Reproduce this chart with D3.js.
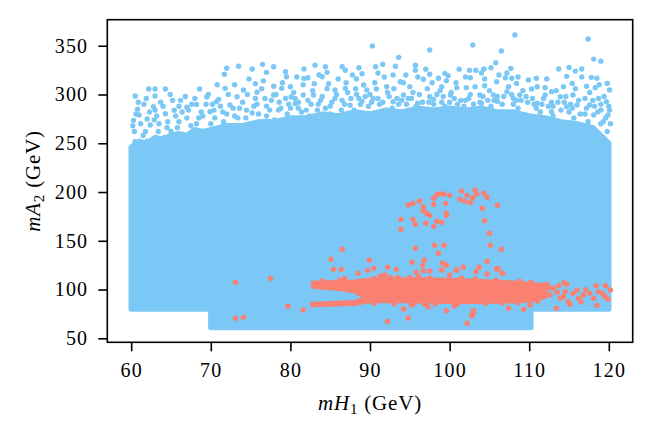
<!DOCTYPE html>
<html>
<head>
<meta charset="utf-8">
<script src="https://cdn.jsdelivr.net/npm/d3@7"></script>
<style>
  body { margin: 0; background: #fff; }
  svg text { font-family: "Liberation Serif", "DejaVu Serif", serif; }
</style>
</head>
<body>
<div id="chart"></div>
<script>
// x ticks / y ticks
var xTicks = [60, 70, 80, 90, 100, 110, 120];
var yTicks = [50, 100, 150, 200, 250, 300, 350];

// dense blue region: floor steps and upper envelope (point centres)
var blueFloor = [[60, 80], [70, 80], [70, 61], [110.2, 61], [110.2, 80], [120, 80]];
var blueEdgeX = [60, 61, 62, 63, 64, 65, 66, 67, 68, 69, 70, 72, 74, 76, 78, 80, 82, 84, 86, 88,
                 90, 92, 94, 96, 98, 100, 102, 104, 106, 108, 110, 112, 114, 116, 118, 119, 120];
var blueEdgeTop = [246, 252, 250, 256, 254, 258, 260, 258, 264, 262, 264, 268, 268, 272, 272, 276, 276, 280, 278, 282,
                   280, 284, 282, 286, 284, 286, 284, 286, 282, 282, 278, 276, 272, 270, 266, 258, 250];

// loose blue points above the dense region
var bluePoints = [
  [60.5,298.4],[62.2,305.6],[63.0,305.6],[63.0,298.4],[64.3,305.6],[62.8,287.5],[60.3,273.5],[61.0,279],
  [66.2,294],[65.4,283.8],[64.3,280.3],[68.6,305.6],[69.5,297.4],[72.0,326.9],[71.7,320.7],[73.5,328.9],
  [75.2,326.1],[76.5,330.9],[77.9,328.5],[77.0,322.7],[79.4,323.4],[79.5,318.2],[71.8,306.3],[75.6,311.1],
  [74.1,304.6],[77.9,308.4],[68.2,289.8],[70.7,292.6],[72.4,289.2],[73.3,297.7],[75.6,296],[78.9,306.3],
  [80.1,297.4],[81.7,326.1],[83.1,330],[84.4,328.5],[84.6,322.7],[84.0,318.2],[81.7,316.5],[82.2,317.2],
  [83.0,311.1],[84.8,311.1],[86.5,328.5],[86.9,324.8],[88.6,327.5],[89.0,321.3],[89.2,309.7],[88.3,315.9],
  [90.3,349.7],[90.7,328.5],[85.6,304.6],[86.9,306.3],[81.6,299.5],[82.9,299.5],[80.6,290.6],[88.3,300.2],
  [89.6,304.6],[60.5,251.6],[62.4,268.7],[67.0,286.9],[69.9,282.4],[77.9,299.5],[75.8,302.3],
  [97.5,345.6],[102.9,350.7],[108.2,361],[117.4,356.9],[106.5,344.6],[93.6,338.1],[91.6,331],[93.2,328.9],
  [95.7,330],[95.7,324.8],[92.9,320],[97.5,320.7],[98.6,316.6],[96.7,315.6],[99.4,321.7],[99.8,319.3],
  [102.5,324.8],[103.3,324.8],[104.3,326.1],[105.2,327.5],[105.8,332.6],[107.7,326.8],[107.0,317.2],[107.8,316.6],
  [110.9,316.6],[113.7,326.1],[115.0,327.8],[116.6,326.1],[115.8,324],[114.7,318.6],[118.1,336.3],[119.0,334.2],
  [117.8,317.6],[119.8,311.4],[120.1,304.6],[118.5,316.6],[116.6,317.9],[115.4,311.4],[117.2,308.4],[118.3,307],
  [109.9,314.9],[108.4,311.4],[105.9,313.1],[104.4,309],[102.6,317.2],[102.1,307],[100.9,307],[99.0,308],
  [95.0,308],[93.8,313.1],[92.1,308],[90.8,305.6],[112.0,307],[112.8,302.9],[114.3,308],[115.5,299.5],
  [113.9,297.7],[112.0,299.5],[110.3,305.6],[108.8,299.5],[107.2,302.9],[105.5,299.5],[103.8,299.5],[100.1,299.5],
  [97.5,297.7],[94.2,299.5],[92.9,292.6],[90.2,292],[118.7,296],[119.7,292.6],[117.6,289.2],[116,289.2],
  [114.7,287.5],[118.1,279],[119.9,279],[119.3,272.1],[112.8,282.4],[110.9,285.9],
  [60.4,262],[61.5,258],[62,275],[63.5,270],[65,262],[66,272],[67.5,268],[68.5,276],[69,262],[70.5,276],
  [71.5,282],[73,278],[74.5,284],[76,280],[77,288],[78.5,284],[80,286],[81,292],[82,284],[83.5,290],
  [85,288],[86.5,294],[87.5,289],[89,293],[91,296],[94,294],[96,291],[98,295],[100,292],[102,294],
  [104,291],[106,293],[108,290],[109,294],[111,291],[113,288],[115,282],[117,280],[119,284],[60.8,285],
  [60.2,268],[60.6,280],[61.2,270],[61.8,262],[62.3,282],[62.9,274],[63.4,262],[64.0,288],[64.6,272],[65.2,294],
  [65.8,266],[66.4,282],[67.0,276],[67.6,290],[68.2,270],[68.8,282],[69.4,290],[70.0,270],[69.7,300],[66.8,298],
  [64.9,300],[63.7,292],[61.6,290],[67.8,258],[64.2,256],[62.0,252],[65.6,278],[63.0,284],
  [70.4,284],[71.0,295],[71.6,272],[72.2,300],[72.8,286],[73.4,276],[74.0,292],[74.6,300],[75.2,281],[75.8,290],
  [76.4,306],[77.0,278],[77.6,294],[78.2,300],[78.8,286],[79.4,296],[80.0,308],[70.8,310],[73.0,310],[76.6,314],
  [79.0,312],[74.8,316],[72.6,268],[76.0,270],[78.0,274],[79.6,280],
  [80.4,302],[81.0,286],[81.6,310],[82.2,294],[82.8,304],[83.4,284],[84.0,298],[84.6,306],[85.2,292],[85.8,300],
  [86.4,284],[87.0,312],[87.6,296],[88.2,306],[88.8,290],[89.4,298],[80.8,318],[83.6,320],[86.0,316],[87.8,320],
  [85.0,280],[82.4,278],[88.0,284],
  [90.0,300],[90.6,312],[91.2,290],[91.8,318],[92.4,298],[93.0,306],[93.6,290],[94.2,312],[94.8,296],[95.4,302],
  [96.0,318],[96.6,292],[97.2,306],[97.8,312],[98.4,300],[99.0,292],[99.6,314],[91.0,322],[94.5,320],[97.0,326],
  [98.8,304],[92.8,286],[95.8,288],[99.4,288],
  [100.2,302],[100.8,312],[101.4,294],[102.0,318],[102.6,300],[103.2,308],[103.8,292],[104.4,316],[105.0,304],
  [105.6,294],[106.2,320],[106.8,298],[107.4,308],[108.0,296],[108.6,318],[109.2,304],[109.8,292],[101.2,326],
  [104.0,322],[107.2,322],[101.8,288],[105.2,288],[108.6,286],
  [110.4,296],[111.0,308],[111.6,290],[112.2,316],[112.8,292],[113.4,304],[114.0,284],[114.6,298],[115.2,290],
  [115.8,306],[116.4,280],[117.0,296],[117.6,302],[118.2,288],[118.8,310],[119.4,298],[120.0,288],[119.0,270],
  [117.4,272],[115.6,276],[113.0,278],[111.4,282],[119.8,262],[119.3,256],[120.2,270],
  [60.9,292],[61.9,296],[63.2,278],[64.5,266],[66.0,288],[67.2,284],[68.0,296],[69.0,278],[70.2,290],[71.2,288],
  [72.0,280],[73.6,286],[74.4,276],[75.4,288],[76.8,296],[77.4,284],[78.6,292],[79.8,290],[80.6,296],[81.4,282],
  [82.6,290],[83.8,294],[84.4,286],[85.6,296],[86.8,290],[87.2,302],[88.6,296],[89.8,288],[90.4,296],[91.6,292],
  [92.2,302],[93.4,296],[94.6,290],[95.2,296],[96.2,300],[97.4,292],[98.0,290],[99.2,298],[100.6,296],[101.0,290],
  [102.4,296],[103.0,290],[104.2,298],[104.8,294],[106.0,298],[106.6,290],[107.8,300],[108.4,294],[109.6,298],
  [110.6,290],[111.8,296],[112.4,288],[113.6,292],[114.4,292],[115.4,286],[116.2,294],[117.2,286],[118.0,294],
  [118.6,282],[119.6,276],[120.1,284],[119.0,290]
];

// dense red band outline (point centres)
var redBand = [
  [82.9,106.4],[85,106.8],[88,107.5],[89.5,109],[92,109.5],[96,109.8],[100,109.3],[104,108],[108,106.5],
  [110.5,105],[112,104],[112,93],[110.5,90],[108,88.5],[104,88],[100,88],[96,88.5],[92,89],[89.8,88.5],
  [88,86],[85,85.2],[82.8,84.6],[85,85.4],[88,86.4],[89.3,90],[89.3,93.5],[88,99],[86,101.5],[84,102.5],[82.9,103.5]
];

// loose red points
var redPoints = [
  [94.8,186.7],[95.4,188.4],[96.2,190.8],[96.7,185],[96.7,180.8],[97.1,178.2],[97.5,176],[98.0,193.5],
  [98.4,197.2],[98.7,198],[99.3,198],[100.0,196.6],[98.0,187.4],[99.5,188.4],[99.6,178.2],[99.6,176],
  [93.9,172],[93.9,161.8],[95.4,172],[95.7,166.9],[97.0,167.9],[98.0,164.8],[98.4,170],[99.0,168.9],
  [101.5,201],[101.3,192.5],[101.9,190.5],[102.2,196.6],[102.6,189],[102.9,193.9],[103.2,202],[103.4,198],
  [104.3,198.7],[104.7,194.6],[104.1,183.3],[106.0,186.4],[104.4,170.6],[105.0,157.7],[105.1,145.4],[106.5,141.3],
  [104.7,129],[95.7,142.3],[98.1,145.4],[99.3,145.4],[98.6,137.2],[96.8,130],[95.3,127.9],[96.6,124.8],
  [99.1,126.9],[99.6,124.8],[101.7,122.8],[103.7,122.8],[92.2,122.8],[105.9,121.4],
  [86.5,141.3],[85.1,131],[85.4,120.7],[86.4,120.7],[89.9,130],[90.5,121.8],[93.3,120.7],[106.6,116.6],[106.0,120.7],
  [81.6,79],[92.2,67.4],[94.8,70.8],[94.2,80],[95.2,84.1],[99.6,78.3],[102.2,65.4],[102.8,73.9],[103.0,78.3],
  [97.3,82.4],[96.8,85.2],[100.6,83.1],[107.4,80.8],[109.3,79.7],[110.1,84.1],
  [102.8,72.9],[103.0,76.6],[113.4,80.8],[118.5,83.8],[119.9,90],[119.6,103.9],[118.4,103.9],[117.1,99.8],
  [116.0,99.5],[114.7,105.4],[114.4,107],[113.7,103.9],[112.2,105.4],[106.1,121],[103.3,118.3],[100.8,120],
  [106.7,116.6],[104.7,115.9],[115.1,84.9],[116.5,87.5],[120.2,99.5],[119.2,96.1],
  [110.9,101.3],[111.6,97.8],[112.6,94.4],[113.0,101.3],[113.9,91],[114.5,97.8],[114.9,87.5],[115.5,96.1],
  [116.8,94.4],[117.6,96.1],[118.7,97.8],[119.5,92.7],[118.1,91],[116.2,91],[114.3,92.7],[113.5,97.2],[112.6,101.9],
  [73.1,107.4],[77.5,111.5],[79.7,82.8],[73.1,70.5],[74.1,71.5],
  [88.5,116.6],[86.8,111.5],[89.7,119.7],[91.3,113.9],[91.9,114.9],[92.6,112.5],[93.6,110.8],[95.0,112.5],
  [95.8,117.7],[96.1,113.2],[96.7,119],[97.5,119],[99.0,120],[99.6,125],[100.0,114.9],[100.9,119.7],
  [84,108.8],[86.2,109.5],[90.5,111.5],[93.5,112.3],[97.5,112],[101.5,111.6],[103.2,110.8],[105.8,109.8],
  [108.8,108.6],[110.2,107.5],[90.5,86],[93,85.5],[95.5,85.8],[98.2,85.4],[101,85.5],[104.5,86],[106.6,86.5],
  [108.6,86.8],[111,88]
];

var scatter = {
    draw: function(args) {
        let svg = d3.select(args.htmlElement).append("svg")
            .attr("width", args.width)
            .attr("height", args.height);
        let x = d3.scaleLinear().domain(args.xDomain).range([args.left, args.right]);
        let y = d3.scaleLinear().domain(args.yDomain).range([args.bottom, args.top]);
        let line = d3.line()
            .x(function(d) { return x(d[0]); })
            .y(function(d) { return y(d[1]); })
            .curve(d3.curveLinearClosed);

        // blue cloud: dense body then loose points
        let body = blueFloor.slice();
        for (let i = blueEdgeX.length - 1; i >= 0; --i)
            body.push([blueEdgeX[i], blueEdgeTop[i]]);
        this.blob(svg, line, body, args.blue, args.r);
        this.dots(svg, x, y, bluePoints, args.blue, args.r);

        // red cloud on top
        this.blob(svg, line, redBand, args.red, args.r);
        this.dots(svg, x, y, redPoints, args.red, args.r);

        this.axes(svg, x, y, args);
    },
    blob: function(svg, line, pts, color, r) {
        svg.append("path")
            .datum(pts)
            .attr("d", line)
            .attr("fill", color)
            .attr("stroke", color)
            .attr("stroke-width", 2 * r)
            .attr("stroke-linejoin", "round");
    },
    dots: function(svg, x, y, pts, color, r) {
        svg.append("g").selectAll("circle")
            .data(pts)
            .join("circle")
            .attr("cx", function(d) { return x(d[0]); })
            .attr("cy", function(d) { return y(d[1]); })
            .attr("r", r)
            .attr("fill", color);
    },
    axes: function(svg, x, y, args) {
        let gx = svg.append("g")
            .attr("transform", "translate(0," + args.bottom + ")")
            .call(d3.axisBottom(x).tickValues(xTicks).tickSize(9).tickSizeOuter(0));
        let gy = svg.append("g")
            .attr("transform", "translate(" + args.left + ",0)")
            .call(d3.axisLeft(y).tickValues(yTicks).tickSize(9).tickSizeOuter(0));
        [gx, gy].forEach(function(g) {
            g.select(".domain").remove();
            g.selectAll("line").attr("stroke", "#000").attr("stroke-width", 1.6);
            g.selectAll("text")
                .attr("fill", "#000")
                .style("font-size", args.fontSize + "px")
                .style("letter-spacing", "1.2px");
        });
        gx.selectAll("text").attr("y", 35).attr("dy", null);
        gy.selectAll("text").attr("x", -19);

        // frame
        svg.append("rect")
            .attr("x", args.left).attr("y", args.top)
            .attr("width", args.right - args.left)
            .attr("height", args.bottom - args.top)
            .attr("fill", "none")
            .attr("stroke", "#000")
            .attr("stroke-width", 1.6);

        // axis titles
        let xl = svg.append("text")
            .attr("x", (args.left + args.right) / 2)
            .attr("y", 410)
            .attr("text-anchor", "middle")
            .style("font-size", (args.fontSize + 1) + "px")
            .style("letter-spacing", "0.8px");
        this.mathLabel(xl, "mH", "1");
        let yl = svg.append("text")
            .attr("transform", "translate(39.5," + (args.top + args.bottom) / 2 + ") rotate(-90)")
            .attr("text-anchor", "middle")
            .style("font-size", (args.fontSize + 1) + "px")
            .style("letter-spacing", "0.8px");
        this.mathLabel(yl, "mA", "2");
    },
    mathLabel: function(t, sym, sub) {
        t.append("tspan").style("font-style", "italic").text(sym);
        t.append("tspan").attr("dy", 4).style("font-size", "15px").text(sub);
        t.append("tspan").attr("dy", -4).text("\u00a0(GeV)");
    }
};

scatter.draw({
    htmlElement: "#chart",
    width: 653,
    height: 435,
    left: 107.3,
    right: 632.7,
    top: 19.7,
    bottom: 342.3,
    xDomain: [57, 123],
    yDomain: [45.9, 376.7],
    blue: "#7bc8f6",
    red: "#fa8072",
    r: 2.7,
    fontSize: 20
});
</script>
</body>
</html>
